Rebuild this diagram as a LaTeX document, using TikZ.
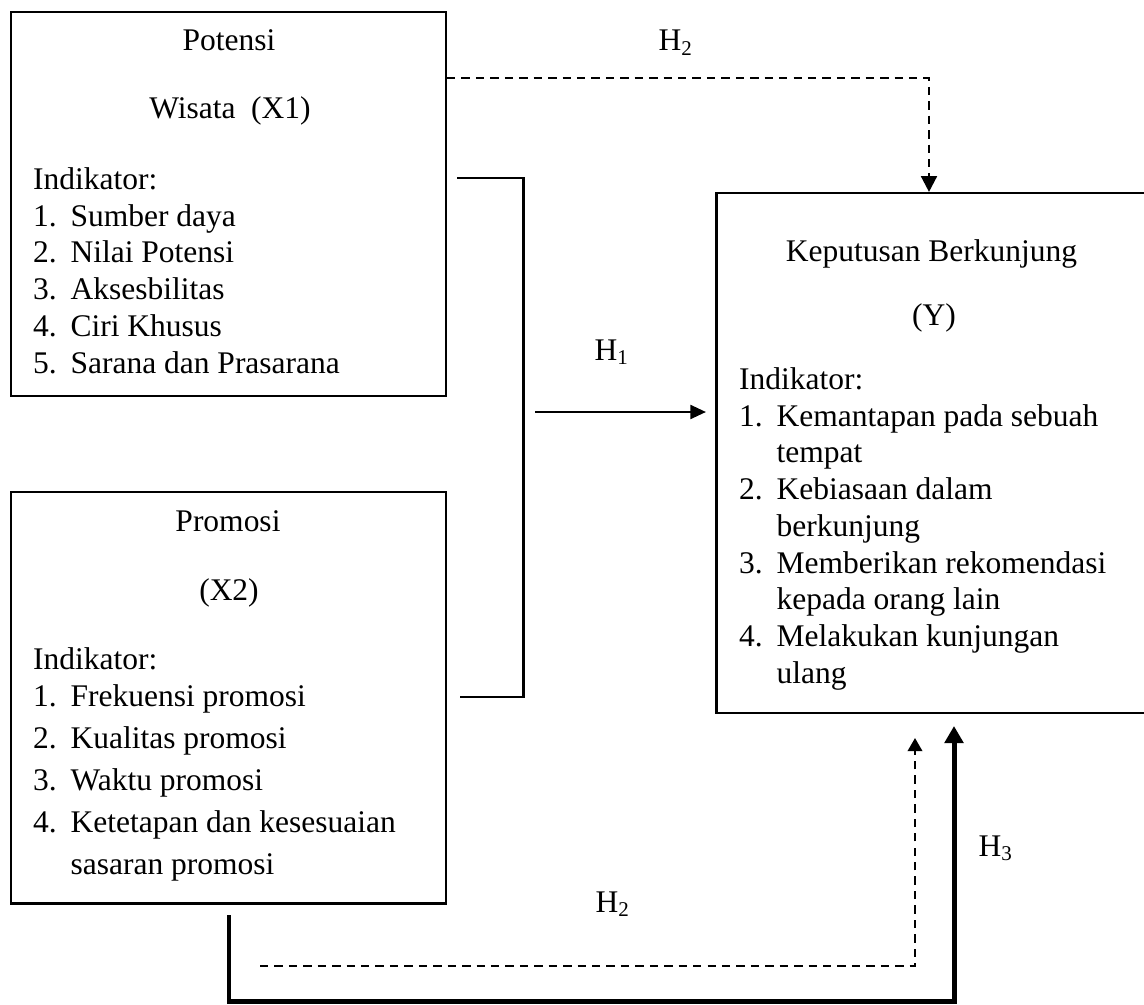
\documentclass[tikz,border=0pt]{standalone}
\usepackage{fontspec}
\setmainfont{Liberation Serif}
\usetikzlibrary{arrows.meta}

\newcommand{\px}{0.381pt}
\newcommand{\itm}[2]{\makebox[14.3pt][l]{#1.}#2}
\newcommand{\cont}[1]{\hspace*{14.3pt}#1}

\begin{document}
\begin{tikzpicture}[x=\px, y=-\px, line width=0.8pt,
    box/.style={draw, rectangle, inner sep=0pt},
    lbl/.style={anchor=base, inner sep=0pt, font=\fontsize{12}{14}\selectfont},
    lst/.style={anchor=north west, align=left, inner sep=0pt, font=\fontsize{12}{14}\selectfont},
    dsh/.style={dash pattern=on 3.2pt off 2.3pt, line width=0.9pt}]
                        \useasboundingbox (0,0) rectangle (1144,1004);

                        % Nodes
                        \node[box, minimum width=435.3*\px, minimum height=384.3*\px] (x1box) at (228.35,203.85) {};
                        \node[box, minimum width=435.3*\px, minimum height=411.8*\px] (x2box) at (228.35,697.6) {};
                        \node[box, minimum width=435.5*\px, minimum height=520*\px] (ybox) at (934.25,453) {};

                        \node[lbl] (x1name) at (229,51) {Potensi};
                        \node[lbl] (x1var) at (230,119) {Wisata\ \ (X1)};
                        \node[lst] (x1ind) at (32,166.5) {Indikator:\\
                            \itm{1}{Sumber daya}\\
                            \itm{2}{Nilai Potensi}\\
                            \itm{3}{Aksesbilitas}\\
                            \itm{4}{Ciri Khusus}\\
                            \itm{5}{Sarana dan Prasarana}};

                        \node[lbl] (x2name) at (228,531) {Promosi};
                        \node[lbl] (x2var) at (229,600) {(X2)};
                        \node[lst, font=\fontsize{12}{16}\selectfont] (x2ind) at (32,646.5) {Indikator:\\[-1.9pt]
                            \itm{1}{Frekuensi promosi}\\
                            \itm{2}{Kualitas promosi}\\
                            \itm{3}{Waktu promosi}\\
                            \itm{4}{Ketetapan dan kesesuaian}\\
                            \cont{sasaran promosi}};

                        \node[lbl] (yname) at (931.5,262) {Keputusan Berkunjung};
                        \node[lbl] (yvar) at (934,326) {(Y)};
                        \node[lst] (yind) at (738,366.5) {Indikator:\\
                            \itm{1}{Kemantapan pada sebuah}\\
                            \cont{tempat}\\
                            \itm{2}{Kebiasaan dalam}\\
                            \cont{berkunjung}\\
                            \itm{3}{Memberikan rekomendasi}\\
                            \cont{kepada orang lain}\\
                            \itm{4}{Melakukan kunjungan}\\
                            \cont{ulang}};

                        \node[lbl] (h2up) at (676,51) {H\textsubscript{2}};
                        \node[lbl] (h1) at (612,360) {H\textsubscript{1}};
                        \node[lbl] (h2down) at (613,912) {H\textsubscript{2}};
                        \node[lbl] (h3) at (996,856) {H\textsubscript{3}};

                        \coordinate (bustop) at (457,178);
                        \coordinate (busbot) at (460,697);
                        \coordinate (h1from) at (535,412);
                        \coordinate (h2from) at (260,966);
                        \coordinate (h2to) at (915,738);
                        \coordinate (h3from) at (229,915);
                        \coordinate (h3to) at (954,726);

                        % Edges
                        \draw[dsh, -{Triangle[length=6pt,width=6pt]}] (x1box.east |- 0,78) -| (929,0 |- ybox.north);
                        \draw[-] (bustop) -- ++(66.5,0) |- (busbot);
                        \draw[line width=1pt, -{Triangle[length=6pt,width=5.3pt]}, shorten >=3.6pt] (h1from) -- (ybox.west |- h1from);
                        \draw[dsh, -{Triangle[length=5pt,width=5.5pt]}] (h2from) -| (h2to);
                        \draw[line width=1.9pt, -{Triangle[length=6.5pt,width=7pt]}] (h3from) |- (h3to |- 0,1001) -- (h3to);
                    \end{tikzpicture}
\end{document}
